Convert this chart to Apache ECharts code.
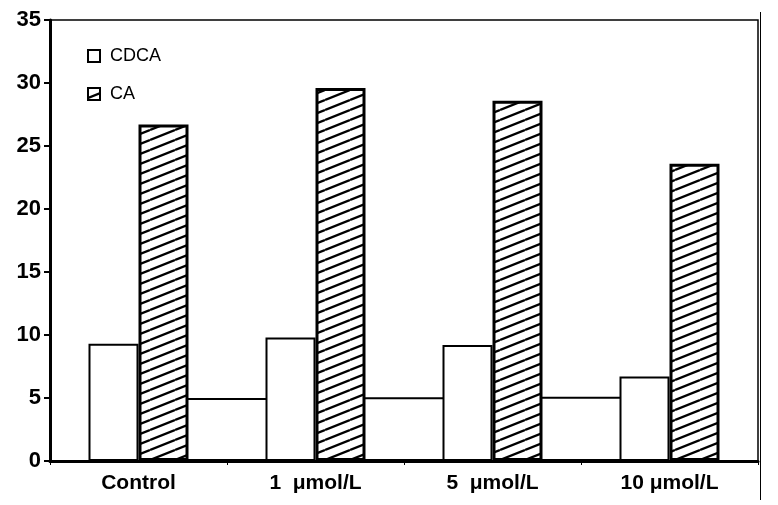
<!DOCTYPE html>
<html>
<head>
<meta charset="utf-8">
<script src="https://cdn.jsdelivr.net/npm/echarts@6/dist/echarts.min.js"></script>
<style>
  html, body { margin: 0; padding: 0; background: #fff; }
  #chart { width: 778px; height: 505px; }
</style>
</head>
<body>
<div id="chart"></div>
<script>
// 数据
const categories = ['Control', '1  μmol/L', '5  μmol/L', '10 μmol/L']
const cdcaValues = [9.3, 9.8, 9.2, 6.7]
const caValues = [26.7, 29.6, 28.6, 23.6]
// 组与组之间的那段横线（约在 5 的位置）
const gapPositions = [1, 2, 3]
const gapValues = [5.0, 5.05, 5.1]
const yTicks = [0, 5, 10, 15, 20, 25, 30, 35]

const font = "'Liberation Sans', Arial, sans-serif"

// 斜线填充
function hatch () {
  let c = document.createElement('canvas')
  c.width = 25
  c.height = 10
  let ctx = c.getContext('2d')
  ctx.fillStyle = '#fff'
  ctx.fillRect(0, 0, 25, 10)
  ctx.strokeStyle = '#000'
  ctx.lineWidth = 2.3
  for (let k = -1; k <= 1; k++) {
    ctx.beginPath()
    ctx.moveTo(0, 10 + k * 10)
    ctx.lineTo(25, 0 + k * 10)
    ctx.stroke()
  }
  return c
}

let chart = echarts.init(document.getElementById('chart'), null, { renderer: 'canvas' })
chart.setOption({
  backgroundColor: '#fff',
  animation: false,
  textStyle: { fontFamily: font, color: '#000' },
  grid: {
    left: 50, right: 20, top: 20, bottom: 44,
    show: true, borderColor: '#000', borderWidth: 1.5, backgroundColor: 'transparent'
  },
  legend: {
    orient: 'vertical',
    left: 82, top: 42,
    itemWidth: 12, itemHeight: 12, itemGap: 20,
    icon: 'rect',
    data: ['CDCA', 'CA'],
    textStyle: { fontSize: 18, color: '#000', fontFamily: font, padding: [0, 0, 0, 5] }
  },
  xAxis: [
    {
      type: 'category',
      data: categories,
      axisLine: { lineStyle: { color: '#000', width: 3 } },
      axisTick: { show: true, length: 4, lineStyle: { color: '#000', width: 1 } },
      axisLabel: { fontSize: 21, fontWeight: 'bold', color: '#000', margin: 12, fontFamily: font }
    },
    {
      type: 'value', min: 0, max: 4, show: false
    }
  ],
  yAxis: {
    type: 'value',
    min: yTicks[0],
    max: yTicks[yTicks.length - 1],
    interval: 5,
    axisLine: { show: true, lineStyle: { color: '#000', width: 3 } },
    axisTick: { show: true, length: 6, lineStyle: { color: '#000', width: 2 } },
    splitLine: { show: false },
    axisLabel: { fontSize: 22, fontWeight: 'bold', color: '#000', margin: 9, fontFamily: font }
  },
  series: [
    {
      name: 'gap',
      type: 'bar',
      xAxisIndex: 1,
      barWidth: 82,
      z: 1,
      data: gapPositions.map((p, i) => [p, gapValues[i]]),
      itemStyle: { color: '#fff', borderColor: '#000', borderWidth: 2 }
    },
    {
      name: 'CDCA',
      type: 'bar',
      barWidth: 50,
      barGap: '0%',
      z: 3,
      data: cdcaValues,
      itemStyle: { color: '#fff', borderColor: '#000', borderWidth: 2 }
    },
    {
      name: 'CA',
      type: 'bar',
      barWidth: 50,
      z: 3,
      data: caValues,
      itemStyle: { color: { image: hatch(), repeat: 'repeat' }, borderColor: '#000', borderWidth: 3 }
    }
  ],
  graphic: [
    {
      type: 'line',
      shape: { x1: 760.5, y1: 12, x2: 760.5, y2: 500 },
      style: { stroke: '#000', lineWidth: 1 }
    }
  ]
})
</script>
</body>
</html>
